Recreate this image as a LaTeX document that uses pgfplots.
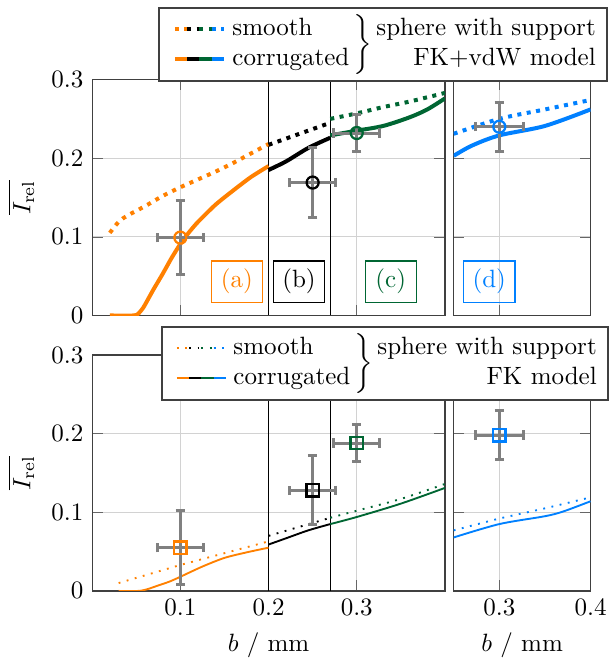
\documentclass[border=0pt]{standalone}
\usepackage{pgfplots}
\pgfplotsset{compat=1.18}
\usetikzlibrary{calc}
\definecolor{corange}{RGB}{255,128,0}
\definecolor{cgreen}{RGB}{0,102,51}
\definecolor{cblue}{RGB}{0,128,255}
\definecolor{cgray}{RGB}{128,128,128}
\tikzset{
  thickdot/.style={line width=1.6pt, dash pattern=on 1.6pt off 2.2pt},
  thicksol/.style={line width=1.6pt},
  thindot/.style={line width=0.75pt, dash pattern=on 0.75pt off 2.6pt},
  thinsol/.style={line width=0.75pt},
  lab/.style={draw=#1, text=#1, line width=0.5pt, minimum width=20.5pt, minimum height=16.5pt, inner sep=1pt},
}
\newcommand{\samp}[1]{\begin{tikzpicture}[baseline=-0.6ex]
  \draw[draw=corange,#1] (0pt,0) -- (4.9pt,0);
  \draw[draw=black,#1] (4.9pt,0) -- (9.8pt,0);
  \draw[draw=cgreen,#1] (9.8pt,0) -- (14.7pt,0);
  \draw[draw=cblue,#1] (14.7pt,0) -- (19.6pt,0);
\end{tikzpicture}\hspace{2.6pt}}
\pgfplotsset{
  base/.style={scale only axis, height=94.3pt, ymin=0, ymax=0.3, ytick={0,0.1,0.2,0.3},
    grid=major, grid style={gray!35, line width=0.4pt},
    axis line style={black!75, line width=0.5pt}, tick style={black!60},
    xlabel style={inner ysep=1.2pt, yshift=-2.1pt},
    clip=true},
  errp/.style={only marks, mark=#1,
    error bars/.cd, x dir=both, x explicit, y dir=both, y explicit,
    error bar style={cgray, line width=1.2pt},
    error mark options={rotate=90, cgray, line width=1.2pt, mark size=1.9pt}, /pgfplots/.cd},
}
\begin{document}
\begin{tikzpicture}
% ---------------- top left ----------------
\begin{axis}[base, name=A, at={(0,0)}, anchor=south west, width=141pt,
  xmin=0, xmax=0.4, xtick={0.1,0.2,0.3}, xticklabels={},
  ylabel={$\overline{I_\mathrm{rel}}$}]
\draw[black, line width=0.5pt] (axis cs:0.2,0) -- (axis cs:0.2,0.3);
\draw[black, line width=0.5pt] (axis cs:0.27,0) -- (axis cs:0.27,0.3);
\addplot[corange, thickdot, smooth, tension=0.5] coordinates {(0.02,0.105) (0.03,0.119) (0.04,0.127) (0.06,0.139) (0.08,0.152) (0.10,0.163) (0.12,0.173) (0.14,0.183) (0.16,0.194) (0.18,0.206) (0.20,0.218)};
\addplot[corange, thicksol, smooth, tension=0.4] coordinates {(0.02,0) (0.047,0) (0.052,0.002) (0.058,0.010) (0.065,0.024) (0.07,0.034) (0.08,0.053) (0.09,0.073) (0.10,0.091) (0.11,0.106) (0.12,0.119) (0.14,0.141) (0.16,0.159) (0.18,0.176) (0.20,0.190)};
\addplot[black, thickdot] coordinates {(0.2,0.217) (0.235,0.231) (0.27,0.245)};
\addplot[black, thicksol, smooth, tension=0.5] coordinates {(0.2,0.185) (0.22,0.196) (0.245,0.213) (0.27,0.226)};
\addplot[cgreen, thickdot, smooth, tension=0.5] coordinates {(0.27,0.250) (0.30,0.257) (0.33,0.265) (0.36,0.272) (0.40,0.283)};
\addplot[cgreen, thicksol, smooth, tension=0.5] coordinates {(0.27,0.229) (0.30,0.235) (0.33,0.241) (0.36,0.252) (0.38,0.262) (0.40,0.276)};
\addplot[mark options={corange, line width=0.9pt}, mark size=2.4pt, errp=o] coordinates {(0.1,0.099) +- (0.026,0.047)};
\addplot[mark options={black, line width=0.9pt}, mark size=2.4pt, errp=o] coordinates {(0.25,0.169) +- (0.026,0.044)};
\addplot[mark options={cgreen, line width=0.9pt}, mark size=2.4pt, errp=o] coordinates {(0.3,0.232) +- (0.026,0.024)};
\node[lab=corange] at (axis cs:0.164,0.043) {(a)};
\node[lab=black] at (axis cs:0.2345,0.043) {(b)};
\node[lab=cgreen] at (axis cs:0.3386,0.043) {(c)};
\end{axis}
% ---------------- top right ----------------
\begin{axis}[base, name=B, at={($(A.south east)+(3.5pt,0)$)}, anchor=south west, width=54.7pt,
  xmin=0.25, xmax=0.4, xtick={0.3,0.4}, xticklabels={}, yticklabels={}]
\addplot[cblue, thickdot, smooth, tension=0.5] coordinates {(0.25,0.231) (0.30,0.250) (0.35,0.262) (0.40,0.274)};
\addplot[cblue, thicksol, smooth, tension=0.5] coordinates {(0.25,0.203) (0.27,0.216) (0.30,0.229) (0.35,0.241) (0.40,0.262)};
\addplot[mark options={cblue, line width=0.9pt}, mark size=2.4pt, errp=o] coordinates {(0.3,0.240) +- (0.026,0.031)};
\node[lab=cblue] at (axis cs:0.289,0.043) {(d)};
\end{axis}
% ---------------- bottom left ----------------
\begin{axis}[base, name=C, at={($(A.south west)+(0,-15.8pt)$)}, anchor=north west, width=141pt,
  xmin=0, xmax=0.4, xtick={0.1,0.2,0.3},
  xlabel={$b$ / mm}, ylabel={$\overline{I_\mathrm{rel}}$}]
\draw[black, line width=0.5pt] (axis cs:0.2,0) -- (axis cs:0.2,0.3);
\draw[black, line width=0.5pt] (axis cs:0.27,0) -- (axis cs:0.27,0.3);
\addplot[corange, thindot] coordinates {(0.03,0.010) (0.10,0.033) (0.15,0.048) (0.20,0.063)};
\addplot[corange, thinsol, smooth, tension=0.5] coordinates {(0.03,0) (0.052,0) (0.062,0.002) (0.075,0.007) (0.088,0.012) (0.10,0.018) (0.125,0.031) (0.15,0.042) (0.175,0.049) (0.20,0.055)};
\addplot[black, thindot] coordinates {(0.2,0.070) (0.27,0.093)};
\addplot[black, thinsol, smooth, tension=0.5] coordinates {(0.2,0.059) (0.22,0.067) (0.245,0.077) (0.27,0.085)};
\addplot[cgreen, thindot, smooth, tension=0.5] coordinates {(0.27,0.093) (0.30,0.102) (0.35,0.117) (0.40,0.136)};
\addplot[cgreen, thinsol, smooth, tension=0.5] coordinates {(0.27,0.085) (0.30,0.094) (0.35,0.111) (0.40,0.131)};
\addplot[mark options={corange, line width=0.9pt}, mark size=2.5pt, errp=square] coordinates {(0.1,0.055) +- (0.026,0.047)};
\addplot[mark options={black, line width=0.9pt}, mark size=2.5pt, errp=square] coordinates {(0.25,0.128) +- (0.026,0.044)};
\addplot[mark options={cgreen, line width=0.9pt}, mark size=2.5pt, errp=square] coordinates {(0.3,0.188) +- (0.026,0.024)};
\end{axis}
% ---------------- bottom right ----------------
\begin{axis}[base, name=D, at={($(C.south east)+(3.5pt,0)$)}, anchor=south west, width=54.7pt,
  xmin=0.25, xmax=0.4, xtick={0.3,0.4}, yticklabels={},
  xlabel={$b$ / mm}]
\addplot[cblue, thindot, smooth, tension=0.5] coordinates {(0.25,0.077) (0.30,0.092) (0.35,0.105) (0.40,0.119)};
\addplot[cblue, thinsol, smooth, tension=0.5] coordinates {(0.25,0.068) (0.30,0.085) (0.35,0.095) (0.37,0.101) (0.40,0.114)};
\addplot[mark options={cblue, line width=0.9pt}, mark size=2.5pt, errp=square] coordinates {(0.3,0.198) +- (0.026,0.031)};
\end{axis}
% ---------------- legends ----------------
\node[draw=black!75, fill=white, line width=0.8pt, anchor=south east, inner xsep=4.5pt, inner ysep=2.5pt]
  (L1) at ($(B.north east)+(7pt,-0.8pt)$) {%
  $\left.\begin{tabular}{@{}l@{}}\samp{thickdot}smooth\\ \samp{thicksol}corrugated\end{tabular}\,\right\}$\,%
  \begin{tabular}{@{}r@{}}sphere with support\\ FK+vdW model\end{tabular}};
\path (L1.north) ++(0,2.8pt) coordinate (top);
\path (top) -- (L1.north);
\node[draw=black!75, fill=white, line width=0.8pt, anchor=south east, inner xsep=4.5pt, inner ysep=2.5pt]
  at ($(D.north east)+(7.4pt,-18.4pt)$) {%
  $\left.\begin{tabular}{@{}l@{}}\samp{thindot}smooth\\ \samp{thinsol}corrugated\end{tabular}\,\right\}$\,%
  \begin{tabular}{@{}r@{}}sphere with support\\ FK model\end{tabular}};
\end{tikzpicture}
\end{document}
